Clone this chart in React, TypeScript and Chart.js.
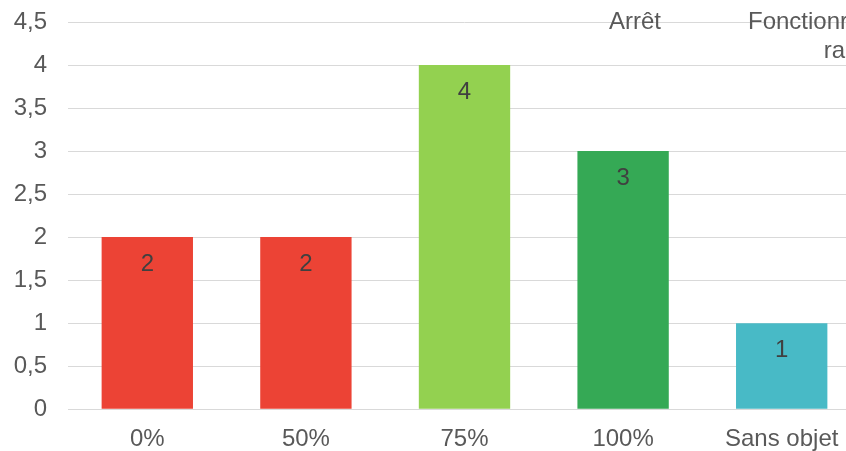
import React, { useEffect, useRef } from "react";
import { Chart, registerables } from "chart.js";

Chart.register(...registerables);

const categories = ["0%", "50%", "75%", "100%", "Sans objet"];
const values = [2, 2, 4, 3, 1];
const barColors = ["#EC4335", "#EC4335", "#93D150", "#35A955", "#48BAC6"];
const legendTexts = ["Arrêt", "Fonctionr", "ra"];

const FONT = "'Liberation Sans', Arial, sans-serif";
const FS = 24;

const overlayPlugin = {
  id: "overlay",
  afterDatasetsDraw(chart: any) {
    const ctx = chart.ctx;
    const meta = chart.getDatasetMeta(0);
    ctx.save();
    ctx.font = `${FS}px ${FONT}`;
    ctx.fillStyle = "#404040";
    ctx.textAlign = "center";
    ctx.textBaseline = "middle";
    meta.data.forEach((el: any, i: number) => {
      ctx.fillText(String(values[i]), el.x, el.y + 27);
    });
    ctx.fillStyle = "#595959";
    ctx.textBaseline = "alphabetic";
    ctx.textAlign = "center";
    ctx.fillText(legendTexts[0], 635, 29);
    ctx.textAlign = "left";
    ctx.fillText(legendTexts[1], 748, 29);
    ctx.textAlign = "right";
    ctx.fillText(legendTexts[2], 845, 58);
    ctx.restore();
  },
};

export default function App() {
  const ref = useRef<HTMLCanvasElement>(null);
  useEffect(() => {
    if (!ref.current) return;
    const chart = new Chart(ref.current, {
      type: "bar",
      data: {
        labels: categories,
        datasets: [
          {
            data: values,
            backgroundColor: barColors,
            borderWidth: 0,
            categoryPercentage: 1,
            barPercentage: 0.576,
          },
        ],
      },
      options: {
        responsive: false,
        animation: false,
        layout: { padding: { left: 0, right: 9, top: 22, bottom: -19 } },
        plugins: {
          legend: { display: false },
          tooltip: { enabled: false },
        },
        scales: {
          x: {
            offset: true,
            grid: { display: false, drawTicks: false },
            border: { display: true, color: "#D9D9D9", width: 1 },
            ticks: {
              color: "#595959",
              font: { family: FONT, size: FS },
              padding: 16,
            },
          },
          y: {
            min: 0,
            max: 4.5,
            afterFit: (s: any) => {
              s.width = 68;
              s.paddingTop = 0;
              s.paddingBottom = 0;
            },
            grid: { color: "#D9D9D9", lineWidth: 1, drawTicks: false },
            border: { display: false },
            ticks: {
              stepSize: 0.5,
              color: "#595959",
              font: { family: FONT, size: FS },
              padding: 21,
              callback: (v: any) => String(v).replace(".", ","),
            },
          },
        },
      },
      plugins: [overlayPlugin],
    });
    return () => chart.destroy();
  }, []);
  return (
    <div
      style={{
        position: "fixed",
        left: 0,
        top: 0,
        width: 846,
        height: 451,
        overflow: "hidden",
        background: "#fff",
      }}
    >
      <canvas ref={ref} width={870} height={451} style={{ display: "block" }} />
    </div>
  );
}
